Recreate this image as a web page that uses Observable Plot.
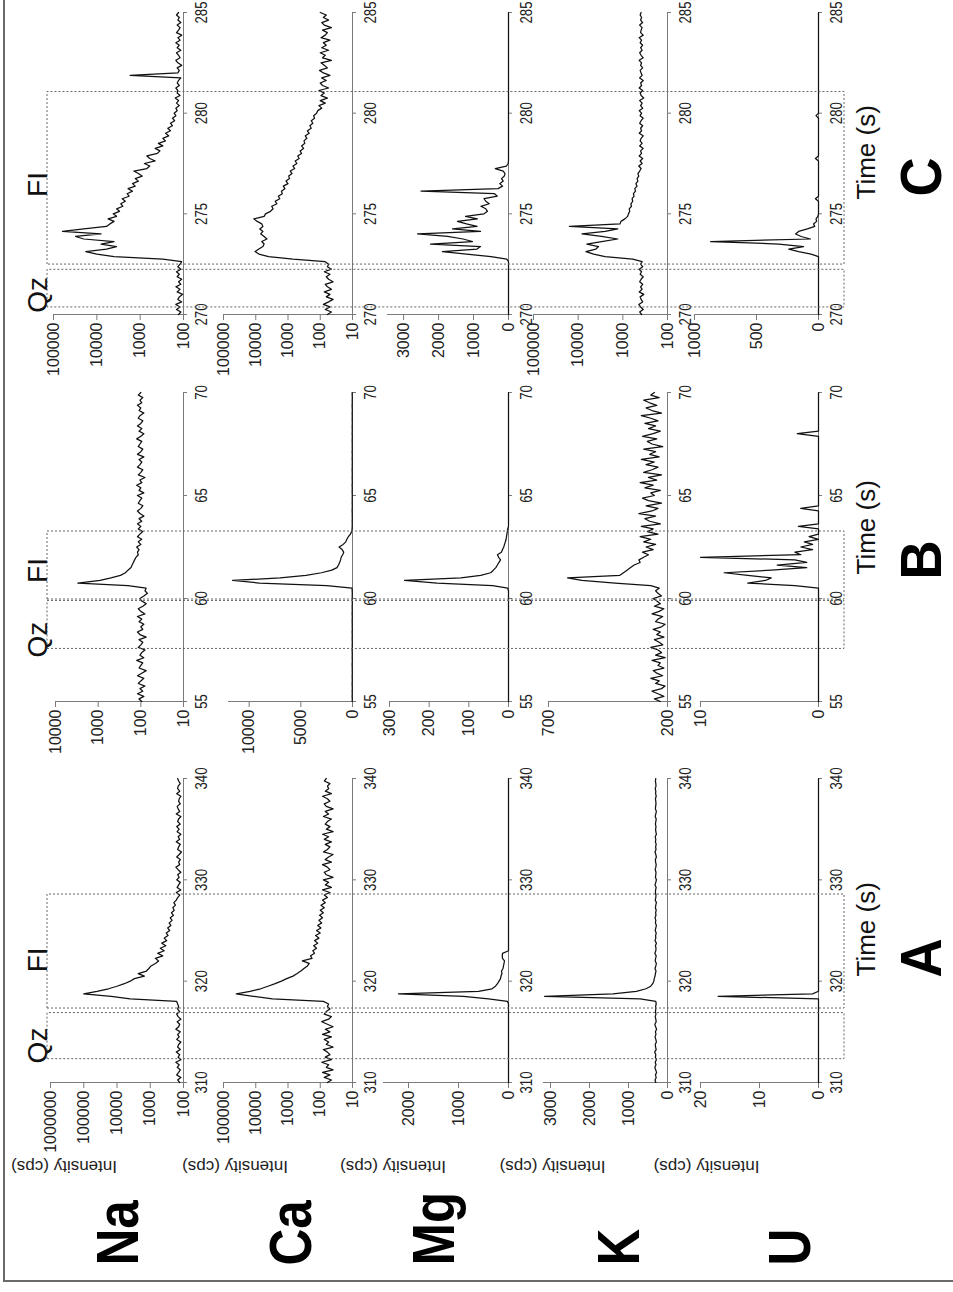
<!DOCTYPE html>
<html>
<head>
<meta charset="utf-8">
<script src="https://cdn.jsdelivr.net/npm/d3@7"></script>
<script src="https://cdn.jsdelivr.net/npm/@observablehq/plot@0.6"></script>
<style>
html, body { margin: 0; padding: 0; background: #fff; width: 953px; height: 1292px; overflow: hidden; }
#fig { position: absolute; left: 0; top: 0; width: 1292px; height: 953px; transform-origin: 0 0;
  transform: translate(0px, 1292px) rotate(-90deg); background: #fff;
  font-family: "Liberation Sans", Arial, sans-serif; }
#frame { position: absolute; left: 10px; top: 3px; right: -20px; bottom: -20px;
  border-left: 2px solid #6a6a6a; border-top: 2px solid #6a6a6a; }
</style>
</head>
<body>
<div id="fig"><div id="frame"></div></div>
<script>
// ---------------- DATA ----------------
const elements = ["Na", "Ca", "Mg", "K", "U"];
const columns = ["A", "B", "C"];
const timeA = d3.range(310, 340.001, 0.25);   // sampling grid, s
const timeB = d3.range(55, 70.001, 0.125);
const timeC = d3.range(270, 285.001, 0.125);
const timeTicksA = [310, 320, 330, 340];
const timeTicksB = [55, 60, 65, 70];
const timeTicksC = [270, 275, 280, 285];

// Column A (310-340 s)
const naA = [
130,150,120,160,140,125,155,135,170,120,
145,130,165,125,150,140,120,160,135,150,
125,170,140,130,155,120,145,160,130,150,
140,150,160,4000,15000,100000,40000,18000,10000,6000,
4000,3000,1500,2300,1300,1100,950,700,560,700,
420,600,380,500,340,450,320,380,290,330,
260,300,240,270,220,250,200,230,190,210,
175,195,165,150,130,165,120,155,140,125,
160,135,150,120,145,170,130,140,125,160,
135,115,150,140,125,165,130,145,120,155,
135,160,125,150,140,120,165,130,145,155,
125,140,135,120,160,130,150,145,125,140,
150];
const caA = [
60,45,75,50,85,40,65,55,90,45,
70,50,60,80,40,65,55,75,45,85,
50,70,40,60,90,55,45,75,65,50,
60,55,80,3000,12000,40000,15000,7000,4200,2500,
1600,1100,700,520,400,320,250,220,360,180,
200,150,170,130,160,120,150,110,140,100,
130,95,120,90,110,85,105,80,100,75,
95,70,85,60,75,50,85,45,70,55,
80,40,65,75,50,60,85,45,70,55,
40,80,60,50,70,45,75,55,85,40,
65,50,70,60,45,80,55,70,40,65,
75,50,60,85,45,70,55,60,50,75,
65];
const mgA = [
0,0,0,0,0,0,0,0,0,0,
0,0,0,0,0,0,0,0,0,0,
0,0,0,0,0,0,0,0,0,0,
0,0,20,400,900,2200,600,330,260,220,
190,160,150,130,140,110,100,90,80,120,
125,120,0,0,0,0,0,0,0,0,
0,0,0,0,0,0,0,0,0,0,
0,0,0,0,0,0,0,0,0,0,
0,0,0,0,0,0,0,0,0,0,
0,0,0,0,0,0,0,0,0,0,
0,0,0,0,0,0,0,0,0,0,
0,0,0,0,0,0,0,0,0,0,
0];
const kA = [
300,320,290,310,280,305,325,295,315,285,
310,300,330,290,305,315,285,300,320,295,
310,280,305,325,290,300,315,295,310,300,
305,290,300,700,3150,1400,800,550,430,380,
350,340,320,310,295,320,300,285,315,305,
290,325,300,295,310,285,320,300,305,290,
315,300,285,310,300,320,295,305,290,310,
300,285,315,300,295,310,305,290,320,300,
285,310,300,295,315,300,290,305,310,285,
300,320,295,305,290,310,300,315,285,300,
305,295,310,300,290,315,300,285,310,305,
295,300,310,290,305,300,315,295,300,310,
300];
const uA = [
0,0,0,0,0,0,0,0,0,0,
0,0,0,0,0,0,0,0,0,0,
0,0,0,0,0,0,0,0,0,0,
0,0,0,0,17,1,0,0,0,0,
0,0,0,0,0,0,0,0,0,0,
0,0,0,0,0,0,0,0,0,0,
0,0,0,0,0,0,0,0,0,0,
0,0,0,0,0,0,0,0,0,0,
0,0,0,0,0,0,0,0,0,0,
0,0,0,0,0,0,0,0,0,0,
0,0,0,0,0,0,0,0,0,0,
0,0,0,0,0,0,0,0,0,0,
0];

// Column B (55-70 s)
const naB = [
95,110,85,120,90,105,80,115,100,85,
120,95,75,110,100,90,125,85,105,95,
80,115,100,90,110,75,105,120,90,100,
85,110,95,120,80,100,115,90,75,95,
105,85,70,80,75,200,3000,900,500,300,
230,200,170,160,150,140,130,115,120,110,
125,100,115,95,120,105,90,115,100,120,
95,110,85,105,120,100,90,115,105,95,
120,85,110,100,125,95,105,80,115,100,
90,120,105,95,110,85,120,100,90,115,
105,95,125,100,85,110,95,120,100,90,
115,105,85,110,100,120,95,105,90,115,
100];
const caB = [
30,20,40,25,35,20,30,40,25,30,
35,20,30,25,40,30,20,35,25,30,
40,25,30,20,35,30,25,40,20,30,
25,35,30,20,40,25,30,35,20,30,
25,30,20,35,40,2500,9000,11600,7000,4500,
3000,2000,1500,1350,1250,1150,1100,950,850,1000,
1300,900,650,550,400,200,80,40,30,25,
35,20,30,25,40,30,20,35,25,30,
20,35,30,25,40,20,30,35,25,30,
40,25,30,20,35,30,25,40,20,30,
25,35,30,20,40,25,30,35,20,30,
30,25,35,20,30,40,25,30,20,35,
30];
const mgB = [
0,0,0,0,0,0,0,0,0,0,
0,0,0,0,0,0,0,0,0,0,
0,0,0,0,0,0,0,0,0,0,
0,0,0,0,0,0,0,0,0,0,
0,0,0,0,2,40,180,262,120,70,
45,38,32,28,24,20,25,28,18,15,
12,10,8,6,5,4,3,2,0,0,
0,0,0,0,0,0,0,0,0,0,
0,0,0,0,0,0,0,0,0,0,
0,0,0,0,0,0,0,0,0,0,
0,0,0,0,0,0,0,0,0,0,
0,0,0,0,0,0,0,0,0,0,
0];
const kB = [
230,255,215,240,265,225,210,250,235,270,
220,245,260,215,240,230,265,210,250,225,
240,270,220,235,255,215,245,230,260,225,
210,250,240,220,265,235,215,255,230,245,
260,225,240,250,235,270,420,560,620,400,
385,370,355,340,315,320,300,280,305,260,
290,250,300,270,315,240,285,260,310,230,
275,295,250,320,265,240,290,225,280,305,
255,270,230,295,260,315,245,280,225,300,
265,240,290,255,310,235,275,250,300,220,
265,285,245,305,260,230,280,250,295,240,
270,310,225,265,290,245,275,300,235,270,
255];
const uB = [
0,0,0,0,0,0,0,0,0,0,
0,0,0,0,0,0,0,0,0,0,
0,0,0,0,0,0,0,0,0,0,
0,0,0,0,0,0,0,0,0,0,
0,0,0,0,0,2,6,4.5,4,6,
8,4,1,3.5,1,2,10,1.5,2,0.5,
1.5,0.5,1.2,0,0.8,0,0,0,1.7,0,
0,0,0,0,0,1.5,0,0,0,0,
0,0,0,0,0,0,0,0,0,0,
0,0,0,0,0,0,0,0,0,0,
0,0,0,0,1.8,0,0,0,0,0,
0,0,0,0,0,0,0,0,0,0,
0];

// Column C (270-285 s)
const naC = [
130,115,145,120,150,110,135,125,105,140,
120,150,115,130,110,140,125,145,115,135,
120,110,300,4000,10000,18000,6000,3500,8000,4000,
20000,31000,8000,62000,20000,6000,5000,4000,5500,3500,
4200,3000,3500,2500,2800,2200,2600,1800,2000,1500,
1900,1300,1500,1100,1300,900,1100,1400,700,600,
800,450,600,700,400,350,450,300,380,260,
300,220,260,200,230,180,200,160,180,150,
165,140,150,125,145,130,155,120,140,135,
150,125,140,130,115,1700,135,125,140,110,
135,150,120,130,145,115,140,125,150,120,
135,110,145,130,120,140,115,135,125,145,
130];
const caC = [
60,45,70,50,80,55,40,65,50,75,
45,60,70,40,55,65,50,75,45,60,
55,70,700,4000,8000,10500,8000,6000,5500,6500,
4500,5500,7000,6000,7500,6000,6500,9000,11500,5500,
5000,3500,2900,3200,2200,2500,1800,2000,1500,1600,
1250,1400,1000,1150,900,950,750,850,620,700,
530,600,450,500,380,420,330,380,300,320,
260,290,220,250,190,210,170,190,150,160,
130,120,90,110,70,100,60,95,75,110,
55,85,100,65,90,50,80,105,60,75,
95,45,85,70,100,55,90,65,80,50,
95,70,60,85,45,75,90,55,80,65,
100];
const mgC = [
0,0,0,0,0,0,0,0,0,0,
0,0,0,0,0,0,0,0,0,0,
0,0,50,500,1200,1890,900,800,2230,1030,
1300,1740,2600,800,1600,900,1200,1460,890,1230,
700,600,650,790,550,650,700,320,400,2500,
300,170,250,150,200,120,100,150,380,60,
10,0,0,0,0,0,0,0,0,0,
0,0,0,0,0,0,0,0,0,0,
0,0,0,0,0,0,0,0,0,0,
0,0,0,0,0,0,0,0,0,0,
0,0,0,0,0,0,0,0,0,0,
0,0,0,0,0,0,0,0,0,0,
0];
const kC = [
380,420,350,400,440,360,390,410,340,430,
370,400,360,420,390,350,410,380,430,360,
400,370,600,2500,4500,6700,4000,3500,6400,3000,
1300,3000,8200,2500,1300,15700,1160,1100,900,780,
750,700,720,640,660,600,620,560,580,520,
540,480,510,460,480,440,460,420,390,440,
370,410,360,430,380,400,350,420,370,410,
390,350,430,380,400,360,420,390,350,410,
380,430,360,400,370,420,340,390,410,360,
430,380,400,350,420,370,390,410,360,400,
380,430,350,390,420,370,400,360,410,380,
430,350,400,390,370,420,360,400,380,410,
390];
const uC = [
0,0,0,0,0,0,0,0,0,0,
0,0,0,0,0,0,0,0,0,0,
0,0,0,0,60,160,240,120,320,870,
65,140,185,160,90,30,40,15,20,5,
0,0,0,0,0,0,25,0,0,0,
0,0,0,0,0,0,0,0,0,0,
0,0,25,0,0,0,0,0,0,0,
0,0,0,0,0,0,0,0,0,20,
0,0,0,0,0,0,0,0,0,0,
0,0,0,0,0,0,0,0,0,0,
0,0,0,0,0,0,0,0,0,0,
0,0,0,0,0,0,0,0,0,0,
0];

// Intensity axis ticks
const ticksNaA = [100, 1000, 10000, 100000, 1000000];
const ticksNaB = [10, 100, 1000, 10000];
const ticksNaC = [100, 1000, 10000, 100000];
const ticksCaA = [10, 100, 1000, 10000, 100000];
const ticksCaB = [0, 5000, 10000];
const ticksCaC = [10, 100, 1000, 10000, 100000];
const ticksMgA = [0, 1000, 2000];
const ticksMgB = [0, 100, 200, 300];
const ticksMgC = [0, 1000, 2000, 3000];
const ticksKA = [0, 1000, 2000, 3000];
const ticksKB = [200, 700];
const ticksKC = [100, 1000, 10000, 100000];
const ticksUA = [0, 10, 20];
const ticksUB = [0, 10];
const ticksUC = [0, 500, 1000];

// Intensity axis extents
const domNaA = [100, 1000000], domNaB = [10, 10000], domNaC = [100, 100000];
const domCaA = [10, 100000], domCaB = [0, 12000], domCaC = [10, 100000];
const domMgA = [0, 2500], domMgB = [0, 300], domMgC = [0, 3460];
const domKA = [0, 3180], domKB = [200, 700], domKC = [100, 100000];
const domUA = [0, 20], domUB = [0, 10], domUC = [0, 1000];

// Qz / FI windows (s)
const windowNames = ["Qz", "FI"];
const windowStartA = [312.4, 317.4], windowEndA = [316.95, 328.65], windowLabelA = [313.65, 322.1];
const windowStartB = [57.6, 60.0], windowEndB = [59.93, 63.3], windowLabelB = [58.0, 61.36];
const windowStartC = [270.4, 272.53], windowEndC = [272.27, 281.1], windowLabelC = [270.97, 276.46];

// ---------------- LAYOUT (pixels, unrotated landscape figure) ----------------
const colFrame = {A: [209, 513], B: [590, 899], C: [977, 1279]};
const rowFrame = {
  Na: {A: [50, 183], B: [55, 183], C: [53, 183]},
  Ca: {A: [223, 352], B: [228, 352], C: [223, 352]},
  Mg: {A: [383, 508], B: [389, 508], C: [387, 508]},
  K:  {A: [543, 667], B: [548, 667], C: [533, 667]},
  U:  {A: [700, 818], B: [700, 818], C: [694, 818]}
};
const rowLabelBaseline = {Na: 137, Ca: 310, Mg: 453, K: 638, U: 809};
const colText = {A: {time: 106, letter: 105}, B: {time: 127, letter: 122}, C: {time: 115, letter: 118}};
const FONT = "'Liberation Sans', Arial, Helvetica, sans-serif";

const times = {A: timeA, B: timeB, C: timeC};
const timeTicks = {A: timeTicksA, B: timeTicksB, C: timeTicksC};
const timeDomain = {A: [310, 340], B: [55, 70], C: [270, 285]};
const series = {
  Na: {A: [naA, "log", domNaA, ticksNaA], B: [naB, "log", domNaB, ticksNaB], C: [naC, "log", domNaC, ticksNaC]},
  Ca: {A: [caA, "log", domCaA, ticksCaA], B: [caB, "linear", domCaB, ticksCaB], C: [caC, "log", domCaC, ticksCaC]},
  Mg: {A: [mgA, "linear", domMgA, ticksMgA], B: [mgB, "linear", domMgB, ticksMgB], C: [mgC, "linear", domMgC, ticksMgC]},
  K:  {A: [kA, "linear", domKA, ticksKA], B: [kB, "linear", domKB, ticksKB], C: [kC, "log", domKC, ticksKC]},
  U:  {A: [uA, "linear", domUA, ticksUA], B: [uB, "linear", domUB, ticksUB], C: [uC, "linear", domUC, ticksUC]}
};
const windows = {
  A: windowNames.map((n, i) => ({name: n, start: windowStartA[i], end: windowEndA[i], at: windowLabelA[i]})),
  B: windowNames.map((n, i) => ({name: n, start: windowStartB[i], end: windowEndB[i], at: windowLabelB[i]})),
  C: windowNames.map((n, i) => ({name: n, start: windowStartC[i], end: windowEndC[i], at: windowLabelC[i]}))
};

const fig = document.getElementById("fig");

function condense(root, test, f) {
  root.querySelectorAll("text").forEach((t) => {
    if (!test(t)) return;
    const tr = t.getAttribute("transform");
    if (tr) t.setAttribute("transform", tr + ` scale(${f},1)`);
    else {
      const x = +t.getAttribute("x") || 0, y = +t.getAttribute("y") || 0;
      t.removeAttribute("x"); t.removeAttribute("y");
      t.setAttribute("transform", `translate(${x},${y}) scale(${f},1)`);
    }
  });
}

function place(svg, left, top) {
  Object.assign(svg.style, {position: "absolute", left: left + "px", top: top + "px",
    background: "none", overflow: "visible", fontFamily: FONT, color: "#222", maxWidth: "none"});
  fig.appendChild(svg);
}

const GRAY = "#7a7a7a";

for (const el of elements) {
  for (const col of columns) {
    const [vals, type, dom, yt] = series[el][col];
    const [x0, x1] = colFrame[col];
    const [y0, y1] = rowFrame[el][col];
    const mL = col === "A" ? x0 : 80, mR = 12, mT = 14, mB = 34;
    const data = times[col].map((t, i) => ({t, v: vals[i]}));
    const marks = [
      Plot.ruleX([timeDomain[col][0]], {stroke: GRAY}),
      Plot.ruleY([dom[0]], {stroke: GRAY}),
      Plot.axisX({ticks: timeTicks[col], tickFormat: "d", tickSize: 4, tickPadding: 7,
        fontSize: 17, stroke: GRAY, fill: "#222", label: null}),
      Plot.axisY({ticks: yt, tickFormat: "d", tickSize: 5, tickPadding: 3,
        fontSize: 16, stroke: GRAY, fill: "#222", label: null}),
      Plot.line(data, {x: "t", y: "v", stroke: "#111", strokeWidth: 1.25})
    ];
    if (col === "A") {
      marks.push(Plot.text([el], {text: (d) => d, frameAnchor: "top-left", dx: 26 - x0,
        dy: rowLabelBaseline[el] - y0, textAnchor: "start", lineAnchor: "bottom",
        fontSize: 60, fontWeight: "bold", fill: "#000"}));
      marks.push(Plot.text(["Intensity (cps)"], {text: (d) => d, frameAnchor: "left", dx: 131 - x0,
        rotate: -90, lineAnchor: "bottom", fontSize: 17, fill: "#222"}));
    }
    const svg = Plot.plot({
      width: mL + (x1 - x0) + mR, height: mT + (y1 - y0) + mB,
      marginLeft: mL, marginRight: mR, marginTop: mT, marginBottom: mB,
      x: {domain: timeDomain[col]},
      y: {type, domain: dom},
      marks
    });
    condense(svg, (t) => t.parentNode && t.parentNode.getAttribute("aria-label") === "x-axis tick label", 0.78);
    condense(svg, (t) => elements.includes(t.textContent), 0.85);
    place(svg, x0 - mL, y0 - mT);
  }
}

// column overlays: analysis windows, window labels, axis title, column letter
for (const col of columns) {
  const [x0, x1] = colFrame[col];
  const mL = 20, mR = 20, mT = 47, mB = 953 - 844;
  const svg = Plot.plot({
    width: mL + (x1 - x0) + mR, height: 953,
    marginLeft: mL, marginRight: mR, marginTop: mT, marginBottom: mB,
    x: {domain: timeDomain[col], axis: null},
    marks: [
      Plot.rect(windows[col], {x1: "start", x2: "end", fill: "none", stroke: "#666",
        strokeWidth: 1, strokeDasharray: "2,2"}),
      Plot.text(windows[col], {x: "at", text: "name", frameAnchor: "top", lineAnchor: "bottom",
        dy: -1, fontSize: 28, fill: "#111"}),
      Plot.text(["Time (s)"], {text: (d) => d, frameAnchor: "bottom-left", dx: colText[col].time,
        dy: 30.5, textAnchor: "start", lineAnchor: "bottom", fontSize: 26, fill: "#111"}),
      Plot.text([col], {text: (d) => d, frameAnchor: "bottom-left", dx: colText[col].letter,
        dy: 96, textAnchor: "start", lineAnchor: "bottom", fontSize: 57, fontWeight: "bold", fill: "#000"})
    ]
  });
  condense(svg, (t) => columns.includes(t.textContent), 0.95);
  place(svg, x0 - mL, 0);
}
</script>
</body>
</html>
